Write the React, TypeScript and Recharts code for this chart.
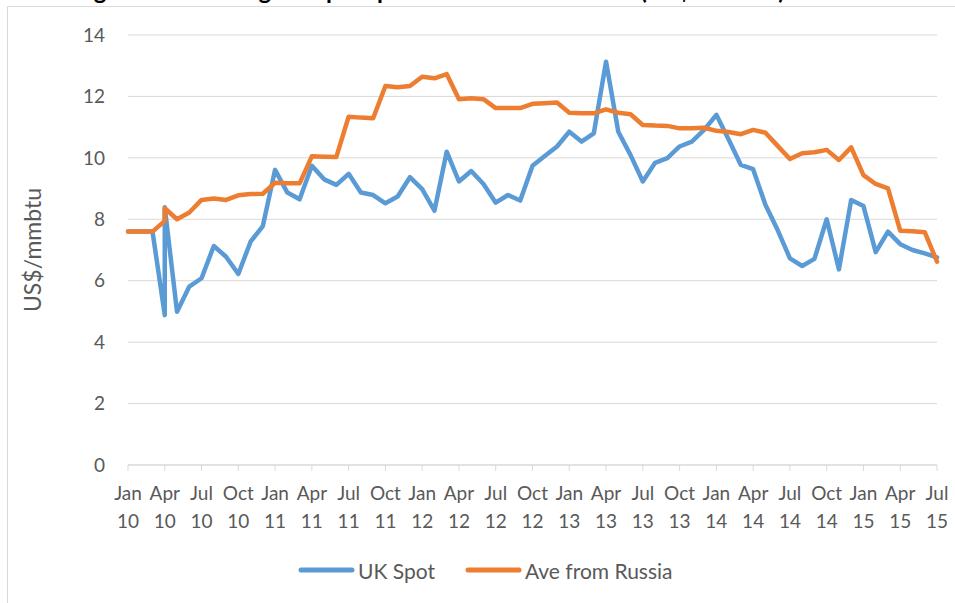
import React from "react";
import { LineChart, Line, XAxis, YAxis, CartesianGrid, Legend } from "recharts";

const monthNames = ["Jan", "Feb", "Mar", "Apr", "May", "Jun", "Jul", "Aug", "Sep", "Oct", "Nov", "Dec"];

const months = [
  "Jan-10", "Feb-10", "Mar-10", "Apr-10", "Apr-10", "May-10", "Jun-10", "Jul-10", "Aug-10", "Sep-10", "Oct-10", "Nov-10", "Dec-10",
  "Jan-11", "Feb-11", "Mar-11", "Apr-11", "May-11", "Jun-11", "Jul-11", "Aug-11", "Sep-11", "Oct-11", "Nov-11", "Dec-11",
  "Jan-12", "Feb-12", "Mar-12", "Apr-12", "May-12", "Jun-12", "Jul-12", "Aug-12", "Sep-12", "Oct-12", "Nov-12", "Dec-12",
  "Jan-13", "Feb-13", "Mar-13", "Apr-13", "May-13", "Jun-13", "Jul-13", "Aug-13", "Sep-13", "Oct-13", "Nov-13", "Dec-13",
  "Jan-14", "Feb-14", "Mar-14", "Apr-14", "May-14", "Jun-14", "Jul-14", "Aug-14", "Sep-14", "Oct-14", "Nov-14", "Dec-14",
  "Jan-15", "Feb-15", "Mar-15", "Apr-15", "May-15", "Jun-15", "Jul-15",
];

const ukSpot = [
  7.6, 7.6, 7.6, 4.88, 8.39, 4.99, 5.81, 6.08, 7.13, 6.78, 6.22, 7.27, 7.78,
  9.61, 8.87, 8.65, 9.74, 9.3, 9.12, 9.48, 8.87, 8.79, 8.52, 8.74, 9.37,
  8.98, 8.28, 10.2, 9.23, 9.57, 9.15, 8.54, 8.79, 8.61, 9.74, 10.06, 10.37,
  10.85, 10.53, 10.8, 13.13, 10.85, 10.09, 9.23, 9.84, 9.99, 10.37, 10.53, 10.91,
  11.4, 10.6, 9.77, 9.63, 8.47, 7.65, 6.73, 6.48, 6.71, 8.0, 6.37, 8.63,
  8.43, 6.93, 7.6, 7.19, 7.0, 6.89, 6.76,
];

const aveFromRussia = [
  7.6, 7.6, 7.6, 7.95, 8.36, 8.0, 8.22, 8.63, 8.68, 8.63, 8.78, 8.82, 8.83,
  9.19, 9.17, 9.17, 10.05, 10.04, 10.03, 11.34, 11.31, 11.29, 12.34, 12.3, 12.34,
  12.64, 12.59, 12.73, 11.91, 11.94, 11.91, 11.62, 11.62, 11.62, 11.76, 11.78, 11.8,
  11.47, 11.45, 11.45, 11.58, 11.47, 11.42, 11.07, 11.05, 11.04, 10.96, 10.96, 10.98,
  10.88, 10.84, 10.77, 10.91, 10.82, 10.39, 9.96, 10.15, 10.18, 10.26, 9.93, 10.34,
  9.44, 9.15, 9.01, 7.63, 7.61, 7.58, 6.62,
];

const seriesNames = ["UK Spot", "Ave from Russia"];

const tickLabels = [
  "Jan 10", "Apr 10", "Jul 10", "Oct 10",
  "Jan 11", "Apr 11", "Jul 11", "Oct 11",
  "Jan 12", "Apr 12", "Jul 12", "Oct 12",
  "Jan 13", "Apr 13", "Jul 13", "Oct 13",
  "Jan 14", "Apr 14", "Jul 14", "Oct 14",
  "Jan 15", "Apr 15", "Jul 15",
];

const yTicks = [0, 2, 4, 6, 8, 10, 12, 14];

const monthIndex = (label: string) => {
  const [m, y] = label.split("-");
  return monthNames.indexOf(m) + 12 * (parseInt(y, 10) - 10);
};

const data = months.map((m, i) => ({
  t: monthIndex(m),
  uk: ukSpot[i],
  ru: aveFromRussia[i],
}));

const tickValues = tickLabels.map((l) => {
  const [m, y] = l.split(" ");
  return monthNames.indexOf(m) + 12 * (parseInt(y, 10) - 10);
});

const FONT = "Lato, 'Open Sans', sans-serif";
const GREY = "#595959";
const BLUE = "#5b9bd5";
const ORANGE = "#ed7d31";

const XTick = (props: any) => {
  const { x, y, payload } = props;
  const idx = tickValues.indexOf(payload.value);
  const label = idx >= 0 ? tickLabels[idx] : "";
  const [m, yr] = label.split(" ");
  return (
    <text x={x} y={y} textAnchor="middle" fill={GREY} fontSize={19} fontFamily={FONT}>
      <tspan x={x} dy={27}>{m}</tspan>
      <tspan x={x} dy={28}>{yr}</tspan>
    </text>
  );
};

const YLabel = (props: any) => {
  const vb = props.viewBox || {};
  const cy = (vb.y || 0) + (vb.height || 0) / 2;
  const cx = 32;
  return (
    <text
      x={cx}
      y={cy}
      transform={`rotate(-90, ${cx}, ${cy})`}
      textAnchor="middle"
      dominantBaseline="central"
      fill={GREY}
      fontSize={23}
      fontFamily={FONT}
    >
      US$/mmbtu
    </text>
  );
};

const LegendContent = (props: any) => {
  const payload = [...(props.payload || [])].sort(
    (a: any, b: any) => seriesNames.indexOf(a.value) - seriesNames.indexOf(b.value)
  );
  return (
    <div style={{ display: "flex", alignItems: "center", height: 30, fontFamily: FONT, fontSize: 21, color: GREY }}>
      {payload.map((p: any, i: number) => (
        <div key={i} style={{ display: "flex", alignItems: "center", marginRight: 30 }}>
          <svg width={57} height={10} style={{ marginRight: 3 }}>
            <line x1={3} y1={5} x2={54} y2={5} stroke={p.color} strokeWidth={5} strokeLinecap="round" />
          </svg>
          <span>{p.value}</span>
        </div>
      ))}
    </div>
  );
};

export default function App() {
  return (
    <div style={{ position: "absolute", left: 0, top: 0, width: 955, height: 603, overflow: "hidden", background: "#fff" }}>
      <div
        style={{
          position: "absolute",
          left: 7,
          top: 6,
          width: 1000,
          height: 700,
          border: "1px solid #d9d9d9",
          boxSizing: "border-box",
        }}
      />
      <svg style={{ position: "absolute", left: 0, top: 0 }} width={955} height={20}>
        <text x={74} y={-1} fontSize={24} fontWeight="bold" fontFamily={FONT} fill="#000">
          Figure 2: Natural gas import price trends from Russia (US$/mmbtu)
        </text>
      </svg>
      <div style={{ position: "absolute", left: 0, top: 0 }}>
        <LineChart width={955} height={603} data={data} margin={{ top: 35, right: 18, left: 0, bottom: 18 }}>
          <CartesianGrid horizontal={true} vertical={false} stroke="#d9d9d9" strokeWidth={1} />
          <XAxis
            type="number"
            dataKey="t"
            domain={[0, 66]}
            ticks={tickValues}
            interval={0}
            height={90}
            tick={<XTick />}
            tickSize={6}
            axisLine={{ stroke: "#d9d9d9", strokeWidth: 1 }}
            tickLine={{ stroke: "#d9d9d9", strokeWidth: 1 }}
            allowDuplicatedCategory={true}
          />
          <YAxis
            type="number"
            domain={[0, 14]}
            ticks={yTicks}
            interval={0}
            width={128}
            axisLine={false}
            tickLine={false}
            tickMargin={17}
            tick={{ fill: GREY, fontSize: 19, fontFamily: FONT }}
            label={<YLabel />}
          />
          <Legend
            verticalAlign="bottom"
            align="left"
            wrapperStyle={{ left: 298, width: 500 }}
            content={<LegendContent />}
          />
          <Line
            type="linear"
            dataKey="uk"
            name="UK Spot"
            stroke={BLUE}
            strokeWidth={4.5}
            strokeLinejoin="round"
            strokeLinecap="round"
            dot={false}
            activeDot={false}
            isAnimationActive={false}
          />
          <Line
            type="linear"
            dataKey="ru"
            name="Ave from Russia"
            stroke={ORANGE}
            strokeWidth={4.5}
            strokeLinejoin="round"
            strokeLinecap="round"
            dot={false}
            activeDot={false}
            isAnimationActive={false}
          />
        </LineChart>
      </div>
    </div>
  );
}
